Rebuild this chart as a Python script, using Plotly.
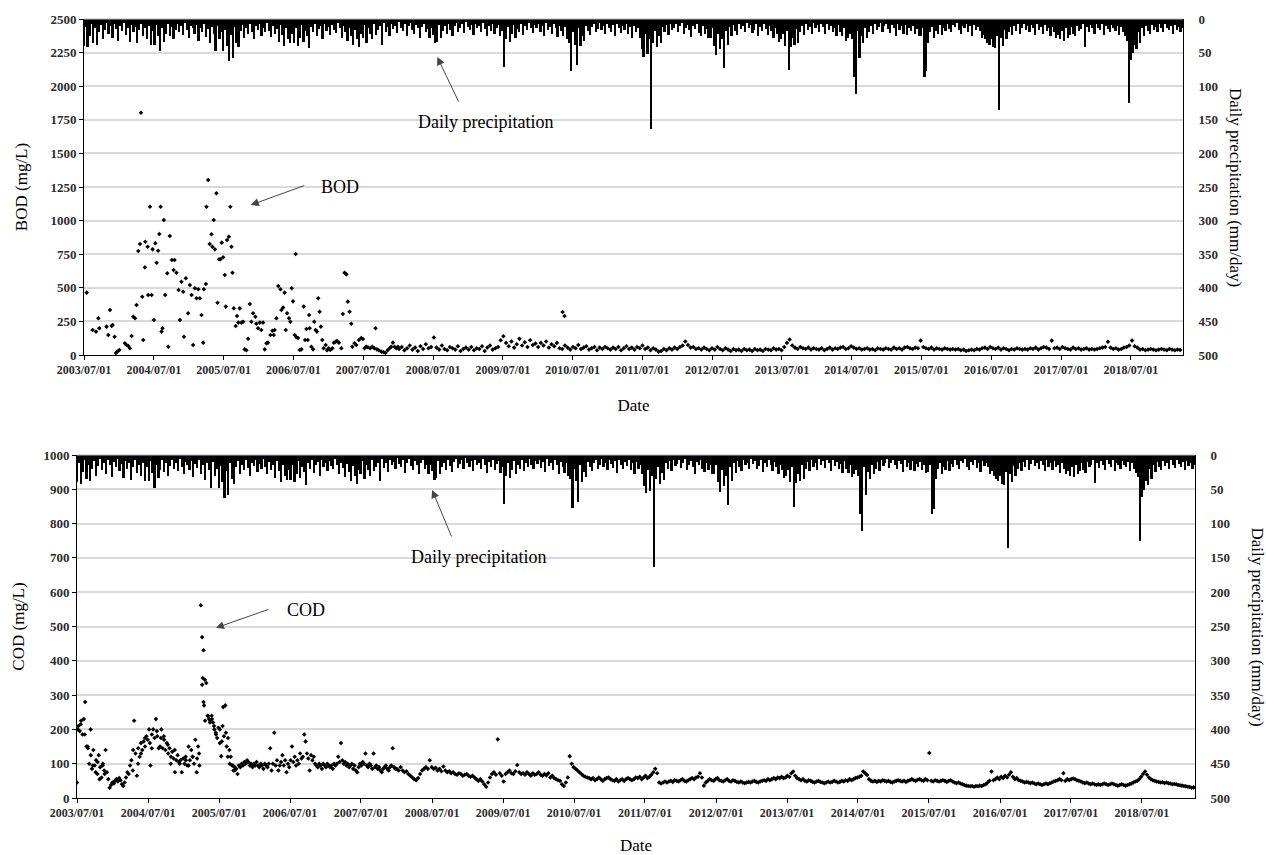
import pandas as pd
import plotly.graph_objects as go

# ---------------- data ----------------
# Daily precipitation (mm/day), one value every 10 days from 2003-07-01,
# one row per hydrological year (July -> June)
precip_rows = [
    [40, 12, 42, 25, 8, 35, 14, 38, 20, 9, 30, 16, 6, 22, 11, 28, 7, 15, 32, 10, 18, 6, 24, 13, 34, 9, 20, 12, 36, 17, 8, 26, 14, 30, 11, 38],
    [18, 38, 9, 26, 48, 14, 34, 22, 7, 25, 12, 30, 16, 8, 20, 11, 24, 6, 17, 28, 10, 14, 22, 9, 32, 13, 19, 8, 27, 15, 36, 12, 22, 48, 10, 30, 20],
    [48, 16, 40, 63, 24, 58, 12, 35, 42, 18, 9, 28, 14, 22, 7, 19, 30, 11, 16, 8, 25, 13, 20, 6, 18, 27, 10, 22, 15, 34, 9, 24, 40, 14, 30, 36],
    [22, 36, 14, 40, 28, 9, 34, 18, 25, 43, 12, 20, 8, 26, 15, 10, 30, 7, 18, 12, 24, 9, 16, 21, 6, 14, 28, 11, 19, 32, 13, 25, 38, 16, 30, 42, 22],
    [28, 9, 35, 14, 22, 30, 8, 24, 17, 11, 38, 6, 19, 12, 25, 7, 15, 10, 21, 5, 13, 18, 8, 26, 11, 6, 16, 22, 9, 14, 28, 12, 7, 20, 15, 28],
    [14, 24, 36, 34, 9, 28, 18, 11, 22, 7, 16, 25, 10, 6, 19, 13, 8, 21, 5, 12, 17, 9, 24, 7, 14, 11, 20, 6, 15, 26, 10, 18, 8, 22, 13, 9, 26],
    [18, 71, 30, 12, 34, 22, 9, 28, 15, 20, 8, 24, 11, 17, 6, 14, 21, 9, 13, 7, 19, 10, 25, 6, 16, 12, 22, 8, 14, 27, 10, 18, 26, 12, 30, 35],
    [77, 20, 38, 68, 14, 40, 25, 32, 10, 18, 24, 12, 8, 20, 15, 6, 17, 11, 22, 7, 13, 19, 9, 26, 8, 14, 21, 10, 16, 7, 22, 12, 28, 10, 20, 14, 28],
    [45, 56, 22, 52, 30, 163, 35, 18, 42, 26, 36, 12, 20, 9, 24, 7, 16, 13, 8, 19, 11, 6, 22, 14, 9, 17, 27, 10, 15, 8, 21, 25, 11, 22, 15, 28],
    [28, 14, 40, 54, 22, 45, 30, 73, 18, 38, 12, 26, 9, 18, 24, 7, 15, 11, 20, 6, 13, 9, 21, 16, 8, 25, 12, 18, 7, 15, 24, 10, 18, 28, 14, 22, 34],
    [30, 22, 40, 18, 76, 41, 28, 38, 15, 35, 20, 10, 24, 8, 17, 12, 22, 6, 14, 9, 19, 7, 12, 23, 8, 16, 10, 20, 13, 26, 9, 20, 26, 14, 32, 28],
    [22, 30, 86, 111, 18, 58, 25, 35, 14, 28, 20, 10, 23, 8, 16, 12, 6, 19, 11, 7, 15, 21, 9, 13, 25, 8, 17, 11, 22, 9, 24, 13, 18, 10, 22, 15, 26],
    [25, 14, 86, 78, 35, 20, 12, 28, 18, 22, 9, 24, 13, 18, 7, 15, 20, 9, 12, 6, 17, 22, 10, 14, 8, 19, 11, 25, 9, 16, 12, 18, 28, 24, 30, 35],
    [38, 30, 42, 43, 25, 135, 28, 40, 16, 30, 20, 12, 24, 10, 18, 8, 22, 13, 7, 16, 11, 20, 9, 14, 24, 8, 17, 12, 22, 9, 18, 14, 26, 12, 20, 28, 24],
    [30, 18, 32, 14, 28, 24, 12, 22, 26, 10, 18, 15, 8, 41, 12, 19, 9, 14, 22, 7, 13, 17, 8, 24, 11, 15, 20, 9, 14, 18, 10, 24, 12, 20, 26, 32],
    [125, 61, 51, 38, 44, 20, 35, 14, 25, 10, 18, 22, 9, 16, 12, 20, 8, 14, 19, 7, 13, 17, 10, 22, 9, 16, 12, 20, 14],
]

# BOD (mg/L), irregular sampling 2003-2007
bod_early_dates = [
    "2003-07-15", "2003-08-15", "2003-09-02", "2003-09-14", "2003-09-19", "2003-10-27", "2003-11-05",
    "2003-11-14", "2003-11-23", "2003-11-28", "2003-12-08", "2003-12-15", "2003-12-22",
    "2004-01-02", "2004-01-31", "2004-02-09", "2004-02-18", "2004-02-26", "2004-03-06", "2004-03-15",
    "2004-03-24", "2004-04-01", "2004-04-10", "2004-04-19", "2004-04-24", "2004-05-01", "2004-05-06",
    "2004-05-15", "2004-05-17", "2004-05-29", "2004-06-01", "2004-06-10", "2004-06-19", "2004-06-24",
    "2004-07-01", "2004-07-08", "2004-07-15", "2004-07-23", "2004-07-29", "2004-08-05", "2004-08-10",
    "2004-08-15", "2004-08-22", "2004-08-29", "2004-09-09", "2004-09-14", "2004-09-22", "2004-10-03",
    "2004-10-12", "2004-10-17", "2004-10-27", "2004-11-07", "2004-11-14", "2004-11-22", "2004-12-01",
    "2004-12-05", "2004-12-15", "2004-12-27",
    "2005-01-05", "2005-01-14", "2005-01-22", "2005-01-31", "2005-02-09", "2005-02-18", "2005-02-26",
    "2005-03-07", "2005-03-16", "2005-03-19", "2005-03-30", "2005-04-02", "2005-04-11", "2005-04-19",
    "2005-04-28", "2005-05-03", "2005-05-10", "2005-05-16", "2005-05-24", "2005-05-30", "2005-06-07",
    "2005-06-14", "2005-06-21", "2005-06-28",
    "2005-07-07", "2005-07-12", "2005-07-19", "2005-07-28", "2005-08-05", "2005-08-11", "2005-08-16",
    "2005-08-23", "2005-09-02", "2005-09-09", "2005-09-16", "2005-09-23", "2005-10-02", "2005-10-11",
    "2005-10-19", "2005-10-28", "2005-11-06", "2005-11-15", "2005-11-23", "2005-12-02", "2005-12-14",
    "2005-12-19", "2005-12-28",
    "2006-01-06", "2006-01-14", "2006-01-23", "2006-02-01", "2006-02-10", "2006-02-18", "2006-03-03",
    "2006-03-13", "2006-03-20", "2006-03-25", "2006-04-03", "2006-04-13", "2006-04-24", "2006-04-29",
    "2006-05-08", "2006-05-16", "2006-05-22", "2006-05-29", "2006-06-08", "2006-06-15", "2006-06-22",
    "2006-06-29",
    "2006-07-08", "2006-07-13", "2006-07-16", "2006-07-25", "2006-08-03", "2006-08-12", "2006-08-24",
    "2006-08-31", "2006-09-07", "2006-09-14", "2006-09-21", "2006-09-24", "2006-10-03", "2006-10-12",
    "2006-10-18", "2006-10-25", "2006-11-01", "2006-11-08", "2006-11-15", "2006-11-22", "2006-11-29",
    "2006-12-06", "2006-12-17", "2006-12-24",
    "2007-01-01", "2007-01-10", "2007-01-21", "2007-01-29", "2007-02-07", "2007-02-14", "2007-02-24",
    "2007-03-09", "2007-03-17", "2007-03-26", "2007-04-04", "2007-04-12", "2007-04-21", "2007-04-30",
    "2007-05-05", "2007-05-17", "2007-05-26", "2007-06-09", "2007-06-21", "2007-06-30",
    "2007-07-08", "2007-07-17", "2007-07-26", "2007-08-07", "2007-08-18", "2007-08-28", "2007-09-04",
    "2007-09-11", "2007-09-21", "2007-10-04", "2007-10-16", "2007-10-26", "2007-11-06", "2007-11-16",
    "2007-11-25", "2007-12-04", "2007-12-12", "2007-12-21", "2007-12-30",
]
bod_early_values = [
    464, 186, 174, 273, 199, 211, 149, 335, 216, 223, 136, 15, 25,
    37, 87, 74, 67, 50, 141, 285, 273, 372, 774, 826, 1803, 434, 112, 652, 843, 806, 446, 1103, 446, 786,
    260, 831, 687, 776, 900, 1103, 174, 199, 1004, 446, 608, 62, 885, 707, 632, 707, 612, 484, 260, 545,
    471, 136, 571, 310,
    521, 446, 74, 496, 422, 489, 422, 298, 92, 489, 528, 1103, 1302, 826, 898, 806, 1004, 786, 1203, 389,
    712, 712, 836, 727,
    595, 360, 856, 880, 1103, 806, 612, 347, 216, 290, 241, 347, 241, 247, 42, 35, 121, 379, 247, 310,
    285, 233, 199,
    241, 186, 241, 42, 87, 92, 149, 180, 149, 186, 273, 513, 489, 335, 354, 464, 186, 310, 273, 247, 496, 399,
    149, 751, 133, 126, 37, 42, 360, 112, 193, 112, 298, 199, 62, 42, 247, 186, 174, 422, 322, 211, 112,
    50, 74, 35,
    50, 37, 50, 92, 99, 104, 92, 50, 305, 612, 600, 397, 322, 233, 62, 87, 74, 112, 126, 119,
    50, 62, 57, 50, 62, 50, 199, 42, 35, 25, 20, 15, 35, 50, 62, 92, 62, 50, 62,
]

# BOD (mg/L), fortnightly sampling from 2008-01-05
bod_late_start = "2008-01-05"
bod_late_values = [
    45, 60, 35, 50, 70, 40, 55, 30, 65, 45, 80, 50, 60, 130, 55, 40, 70, 45, 35, 60, 50, 40, 65, 30, 45, 55,
    40, 60, 35, 50, 45, 65, 30, 55, 70, 40, 50, 60, 110, 140, 90, 65, 100, 55, 80, 120, 70, 95, 60, 110, 75, 85,
    60, 90, 70, 100, 55, 80, 65, 90, 50, 45, 70, 55, 40, 60, 50, 75, 45, 55, 65, 40, 50, 60, 35, 55, 45, 60,
    50, 40, 55, 45, 60, 35, 50, 65, 45, 55, 40, 60, 50, 70, 45, 55, 35, 50, 40, 25, 30, 45, 35, 50, 40, 55,
    45, 60, 70, 100, 75, 55, 60, 45, 50, 40, 55, 45, 35, 50, 40, 60, 45, 35, 50, 40, 30, 45, 35, 40, 30, 45,
    35, 40, 30, 45, 35, 40, 30, 45, 40, 35, 50, 40, 45, 35, 60, 90, 115, 70, 55, 45, 60, 50, 45, 55, 40, 50,
    45, 40, 50, 35, 45, 55, 40, 50, 45, 55, 60, 45, 50, 65, 55, 45, 50, 40, 45, 50, 40, 45, 35, 50, 45, 40,
    50, 45, 40, 55, 45, 50, 40, 55, 60, 50, 45, 55, 50, 107, 60, 50, 45, 55, 40, 50, 45, 40, 50, 45, 40, 45,
    40, 45, 35, 40, 30, 35, 40, 35, 45, 40, 50, 55, 45, 60, 50, 45, 55, 40, 50, 45, 35, 45, 40, 50, 45, 40,
    45, 40, 50, 45, 55, 40, 50, 60, 55, 45, 107, 50, 55, 45, 60, 50, 45, 40, 55, 45, 50, 40, 45, 50, 40, 45,
    40, 45, 50, 55, 60, 99, 55, 45, 50, 40, 45, 55, 60, 70, 107, 65, 55, 40, 45, 35, 40, 45, 40, 35, 40, 45,
    40, 35, 45, 40, 35, 40, 38,
]
bod_extra_dates = ["2010-05-10", "2010-05-20"]
bod_extra_values = [320, 290]

# COD (mg/L), weekly 2003-07-01 .. 2007-12
cod_weekly_start = "2003-07-01"
cod_weekly_values = [
    45, 210, 195, 225, 185, 230, 280, 150, 145, 100, 200, 85, 140,
    95, 110, 70, 125, 90, 60, 100, 80, 140, 75,
    55, 30, 38, 45, 42, 50, 55, 48, 58, 52, 40, 35, 45, 60, 75, 70,
    95, 110, 80, 225, 130, 65, 145, 120, 160, 140, 165, 150,
    180, 170, 200, 95, 185, 200, 175, 230, 180, 145,
    150, 200, 145, 170, 140, 160, 130, 145, 120, 135, 115, 75, 110, 125, 105,
    110, 75, 115, 100, 110, 95, 150, 110, 140, 120, 100, 170, 75, 150, 95,
    562, 469, 431, 345, 335, 240, 230, 225, 240, 220, 200,
    190, 175, 205, 160, 122, 210, 180, 270, 150,
    175, 140, 120, 95, 80, 90,
    85, 70, 95, 90, 100, 95, 105, 100, 110, 105, 95, 100, 90, 100, 95, 105, 95, 90, 100, 95, 85, 100, 95,
    90, 100, 145, 80, 100, 190, 95, 110, 80, 95, 105,
    125, 95, 110, 75, 100, 90, 110, 150, 105, 120, 95, 110, 100, 130, 115,
    120, 185, 165, 130, 115, 80, 125, 110, 120, 100,
    95, 90, 100, 95, 85, 100, 95, 90, 100, 95, 90, 95, 85, 100, 95, 100, 120, 105, 160, 110,
    100, 105, 95, 100, 90, 95, 100, 85, 95, 80, 75, 90, 100, 95, 105, 100, 130, 95, 90, 100,
    95, 85, 130, 90, 95, 85, 90, 80, 75, 85, 90, 95, 85, 80, 90, 95, 145, 90, 85,
]
# additional COD samples during 2003-2005
cod_extra_dates = [
    "2003-07-05", "2003-07-20", "2003-08-10", "2003-08-25", "2003-09-10", "2003-09-20", "2003-10-05",
    "2003-10-15", "2003-10-25", "2003-11-10", "2003-11-20",
    "2004-04-15", "2004-05-10", "2004-05-25", "2004-06-15", "2004-07-10", "2004-07-20", "2004-08-15",
    "2004-09-05", "2004-09-20", "2004-10-10", "2004-10-25", "2004-11-15", "2004-12-10", "2005-01-10",
    "2005-01-25", "2005-02-15", "2005-03-10", "2005-03-20",
    "2005-04-05", "2005-04-08", "2005-04-12", "2005-04-15", "2005-04-20", "2005-05-05", "2005-05-15",
    "2005-05-25", "2005-06-05", "2005-06-15", "2005-07-05", "2005-07-15", "2005-07-22", "2005-08-05",
    "2005-08-15", "2005-08-25", "2005-09-10", "2005-09-20",
]
cod_extra_values = [
    200, 215, 185, 150, 125, 95, 75, 105, 55, 95, 70,
    140, 100, 130, 175, 160, 145, 195, 175, 180, 155, 100, 140, 100, 120, 95, 120, 115, 130,
    330, 350, 280, 270, 225, 240, 220, 230, 210, 185, 200, 165, 265, 190, 120, 100, 95, 80,
]
# COD (mg/L), every 10 days from 2008-01-01
cod_late_start = "2008-01-01"
cod_late_values = [
    85, 80, 90, 80, 75, 78, 70, 65, 60, 55, 52, 58, 70, 80, 85, 90, 85, 110, 90, 85,
    88, 80, 85, 78, 92, 80, 75, 78, 72, 75, 70, 68, 72, 70, 65, 68, 70, 65, 62, 65, 60, 55, 50,
    55, 48, 40, 33, 45, 60,
    70, 75, 68, 171, 72, 65, 48, 70, 75, 80, 72, 70, 78, 96, 75, 70, 72, 68, 75, 70,
    65, 72, 68, 70, 75, 68, 65, 70, 66, 72, 60, 65, 58, 55, 52, 50, 40, 35, 45,
    60, 122, 100, 90, 85, 80, 75, 70, 65, 62, 60, 58,
    55, 58, 52, 55, 60, 55, 50, 55, 58, 60, 55, 52, 50, 55, 48, 52, 55, 50, 55, 58, 55, 52, 55, 60, 58, 62, 55, 60, 65, 58,
    62, 68, 75, 85, 72, 45, 42, 45, 48,
    45, 48, 50, 47, 52, 50, 48, 52, 55, 50, 48, 52, 55, 58, 55, 60, 62,
    72, 60, 36, 45, 50, 55, 52, 50, 55, 58, 52, 50, 48, 52, 55, 50, 48, 52, 50, 47,
    45, 48, 45, 43, 45, 47, 45, 48, 50, 47, 45, 48, 50, 52, 50, 55, 52, 55, 58, 55, 60, 58, 62, 58,
    60, 65, 62, 72, 77, 65, 58, 55, 52, 55,
    50, 48, 52, 50, 47, 45, 48, 50, 47, 45, 43, 45, 48, 45, 47, 50, 48, 45, 47, 50, 48, 52, 50, 55, 52, 55, 58, 60, 62,
    65, 77, 72, 67, 55, 50,
    48, 50, 47, 50, 48, 52, 50, 48, 50, 47, 45, 48, 50, 52, 50, 48, 50, 47, 50, 52,
    55, 52, 50, 53, 55, 52, 50, 55, 52, 131, 50, 48, 52, 50, 48, 50, 52, 50, 47, 50,
    52, 48, 45, 43, 45, 42, 40, 38, 36, 35, 34,
    35, 33, 35, 34, 36, 35, 38, 40, 45, 50,
    77, 52, 55, 60, 55, 62, 58, 65, 60, 68, 75, 62, 55, 58, 52,
    50, 48, 45, 47, 45, 43, 45, 42, 40, 42, 40, 38, 40, 42, 40, 43, 45, 48, 50, 52,
    55, 52, 72, 50, 55, 52, 55, 57, 55, 52, 50, 48, 45, 43, 45, 42, 40, 42, 40, 38,
    40, 38, 40, 42, 40, 38, 40, 42, 40, 38, 36, 38, 40, 38, 36, 38, 40, 42, 45, 48,
    50, 55, 62, 70, 77, 68, 60, 55, 52, 50,
    48, 47, 45, 46, 44, 45, 43, 42, 40, 41, 40, 38, 37, 36, 35, 34, 33, 32, 30, 31,
]

tick_years = list(range(2003, 2019))
date_tickvals = [f"{y}-07-01" for y in tick_years]
date_ticktext = [f"{y}/07/01" for y in tick_years]

# ---------------- assembled series ----------------
precip_mm = [v for row in precip_rows for v in row]
precip_dates = pd.date_range("2003-07-01", periods=len(precip_mm), freq="10D")

bod_dates = (list(pd.to_datetime(bod_early_dates))
             + list(pd.date_range(bod_late_start, periods=len(bod_late_values), freq="14D"))
             + list(pd.to_datetime(bod_extra_dates)))
bod_values = bod_early_values + bod_late_values + bod_extra_values

cod_dates = (list(pd.date_range(cod_weekly_start, periods=len(cod_weekly_values), freq="7D"))
             + list(pd.to_datetime(cod_extra_dates))
             + list(pd.date_range(cod_late_start, periods=len(cod_late_values), freq="10D")))
cod_values = cod_weekly_values + cod_extra_values + cod_late_values

# ---------------- styling ----------------
SERIF = "Liberation Serif, Times New Roman, serif"
GRID = "#d9d9d9"
TICK_FONT = dict(family=SERIF, size=13, color="#2b2b2b", weight="bold")
X_TICK_FONT = dict(family=SERIF, size=12, color="#2b2b2b", weight="bold")
TITLE_FONT = dict(family=SERIF, size=17, color="black")
BAR_WIDTH_MS = 9 * 24 * 3600 * 1000
X_RANGE = ["2003-07-01", "2019-03-31"]

fig = go.Figure()

# upper panel: precipitation bars + BOD
fig.add_trace(go.Bar(x=precip_dates, y=precip_mm, width=BAR_WIDTH_MS,
                     marker=dict(color="black", line=dict(width=0)),
                     xaxis="x", yaxis="y2", name="Daily precipitation", showlegend=False))
fig.add_trace(go.Scatter(x=bod_dates, y=bod_values, mode="markers",
                         marker=dict(symbol="diamond", size=3.5, color="black"),
                         xaxis="x", yaxis="y", name="BOD", showlegend=False))

# lower panel: precipitation bars + COD
fig.add_trace(go.Bar(x=precip_dates, y=precip_mm, width=BAR_WIDTH_MS,
                     marker=dict(color="black", line=dict(width=0)),
                     xaxis="x2", yaxis="y4", name="Daily precipitation", showlegend=False))
fig.add_trace(go.Scatter(x=cod_dates, y=cod_values, mode="markers",
                         marker=dict(symbol="diamond", size=3.5, color="black"),
                         xaxis="x2", yaxis="y3", name="COD", showlegend=False))

W, H = 1266, 855


def xdom(left_px, right_px):
    return [left_px / W, right_px / W]


def ydom(top_px, bottom_px):
    return [1 - bottom_px / H, 1 - top_px / H]


common_x = dict(type="date", range=X_RANGE, tickvals=date_tickvals, ticktext=date_ticktext,
                tickangle=0, ticks="outside", ticklen=4, tickcolor="black", automargin=False,
                showline=True, linecolor="black", linewidth=1, showgrid=False, zeroline=False,
                tickfont=X_TICK_FONT)
common_left = dict(showgrid=True, gridcolor=GRID, gridwidth=1.5, zeroline=False, automargin=False,
                   showline=True, linecolor="black", linewidth=1, ticks="outside", ticklen=4,
                   tickcolor="black", tickfont=TICK_FONT)
common_right = dict(side="right", range=[500, 0], dtick=50, showgrid=False, zeroline=False,
                    showline=True, linecolor="black", linewidth=1, ticks="", automargin=False,
                    ticklabelstandoff=12, tickfont=TICK_FONT)

fig.update_layout(
    width=W, height=H,
    margin=dict(l=0, r=0, t=0, b=0),
    paper_bgcolor="white", plot_bgcolor="white",
    bargap=0,
    xaxis=dict(common_x, domain=xdom(84, 1183), anchor="y",
               title=dict(text="Date", font=TITLE_FONT, standoff=22)),
    yaxis=dict(common_left, domain=ydom(19, 355), anchor="x", range=[0, 2500], dtick=250,
               title=dict(text="BOD (mg/L)", font=TITLE_FONT, standoff=18)),
    yaxis2=dict(common_right, overlaying="y", anchor="x"),
    xaxis2=dict(common_x, domain=xdom(77, 1195), anchor="y3",
                title=dict(text="Date", font=TITLE_FONT, standoff=22)),
    yaxis3=dict(common_left, domain=ydom(455, 798), anchor="x2", range=[0, 1000], dtick=100,
                title=dict(text="COD (mg/L)", font=TITLE_FONT, standoff=14)),
    yaxis4=dict(common_right, overlaying="y3", anchor="x2"),
)

# thin baseline along the top of each panel
for yref in ("y domain", "y3 domain"):
    xref = "x domain" if yref == "y domain" else "x2 domain"
    fig.add_shape(type="line", xref=xref, yref=yref, x0=0, x1=1, y0=1, y1=1,
                  line=dict(color="#a9bfdc", width=1))

# right-hand axis titles read top-to-bottom
for (top_px, bot_px), title_x in (((19, 355), 1235), ((455, 798), 1257)):
    fig.add_annotation(text="Daily precipitation (mm/day)", textangle=90, showarrow=False,
                       xref="paper", yref="paper", x=title_x / W,
                       y=1 - (top_px + bot_px) / 2 / H,
                       xanchor="center", yanchor="middle", font=TITLE_FONT)

ANNOT_FONT = dict(family=SERIF, size=18, color="black")
ARROW = dict(showarrow=True, arrowhead=2, arrowsize=1.6, arrowwidth=1, arrowcolor="#444")

# upper panel call-outs
fig.add_annotation(text="", x="2008-07-23", y=2217, xref="x", yref="y", ax=22, ay=46, **ARROW)
fig.add_annotation(text="Daily precipitation", x="2009-03-31", y=1733, xref="x", yref="y",
                   showarrow=False, font=ANNOT_FONT)
fig.add_annotation(text="", x="2005-11-20", y=1116, xref="x", yref="y", ax=55, ay=-20, **ARROW)
fig.add_annotation(text="BOD", x="2007-02-28", y=1250, xref="x", yref="y",
                   showarrow=False, font=ANNOT_FONT)

# lower panel call-outs
fig.add_annotation(text="", x="2008-07-01", y=898, xref="x2", yref="y3", ax=20, ay=48, **ARROW)
fig.add_annotation(text="Daily precipitation", x="2009-02-24", y=702, xref="x2", yref="y3",
                   showarrow=False, font=ANNOT_FONT)
fig.add_annotation(text="", x="2005-06-15", y=496, xref="x2", yref="y3", ax=54, ay=-19, **ARROW)
fig.add_annotation(text="COD", x="2006-09-22", y=548, xref="x2", yref="y3",
                   showarrow=False, font=ANNOT_FONT)

fig.write_html("out.html")
